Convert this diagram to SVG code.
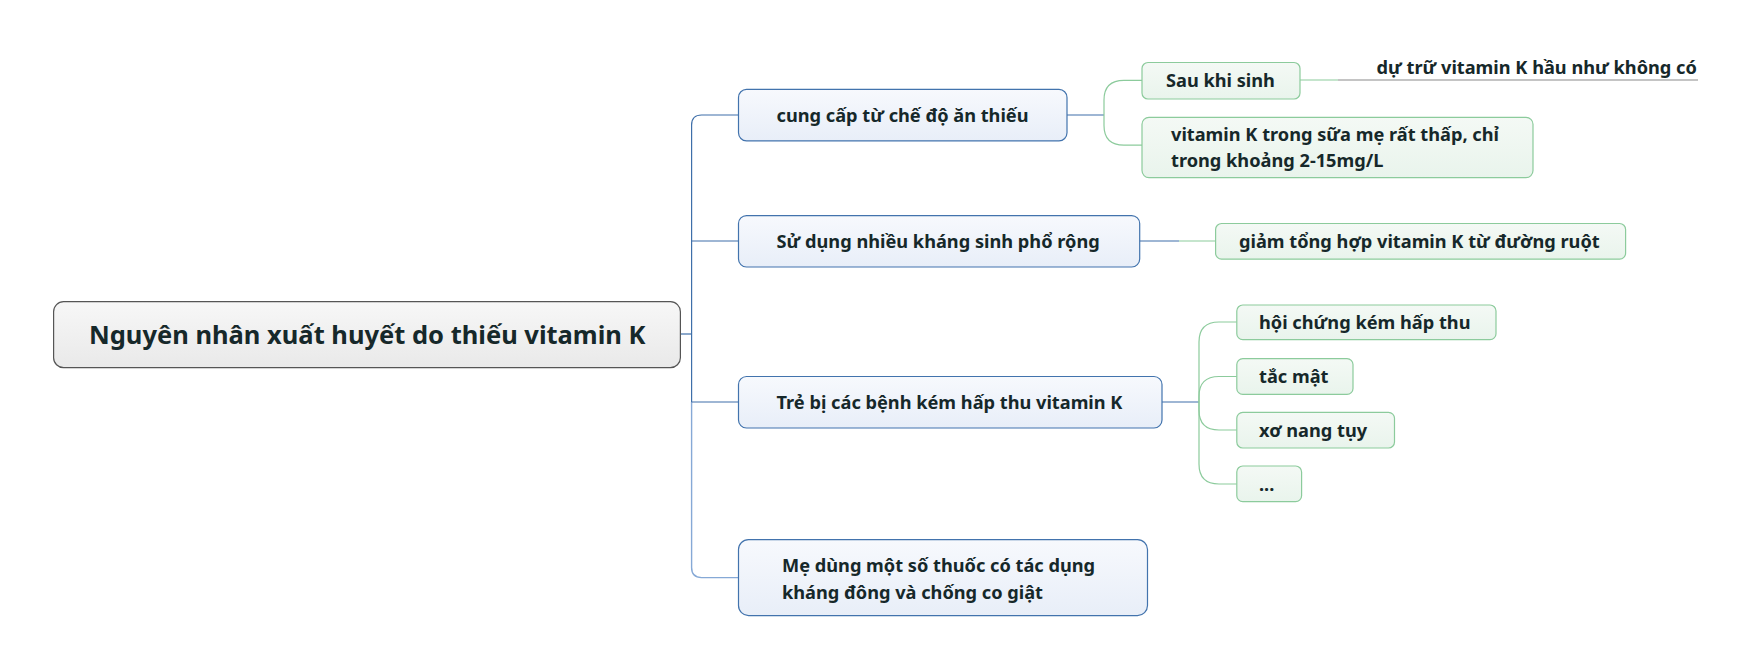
<svg xmlns="http://www.w3.org/2000/svg" width="1752" height="670" viewBox="0 0 1752 670">
<defs>
<linearGradient id="gRoot" x1="0" y1="0" x2="0" y2="1"><stop offset="0" stop-color="#f7f7f7"/><stop offset="1" stop-color="#e9e9e9"/></linearGradient>
<linearGradient id="gBlue" x1="0" y1="0" x2="0" y2="1"><stop offset="0" stop-color="#f7f9fd"/><stop offset="1" stop-color="#e8eef8"/></linearGradient>
<linearGradient id="gGreen" x1="0" y1="0" x2="0" y2="1"><stop offset="0" stop-color="#f4f9f5"/><stop offset="1" stop-color="#e9f4ec"/></linearGradient>
</defs>
<style>
text{font-family:"Noto Sans","Open Sans","DejaVu Sans",sans-serif;font-weight:bold;fill:#16282a}
.root rect{fill:url(#gRoot);stroke:#555;stroke-width:1.2}
.b rect{fill:url(#gBlue);stroke:#4273ad;stroke-width:1.2}
.s rect{fill:url(#gGreen);stroke:#8ccb9c;stroke-width:1.2}
.cb{fill:none;stroke:#3e6fa9;stroke-width:1.2}
.cl{fill:none;stroke:#86a9d6;stroke-width:1.4}
.cg{fill:none;stroke:#8ccb9c;stroke-width:1.2}
.t1{font-size:25.5px}
.t2{font-size:18.2px}
</style>
<rect width="1752" height="670" fill="#fff"/>
<g id="connectors">
<path class="cb" d="M680 334 H691.6"/>
<path class="cb" d="M738.5 115 H701.6 Q691.6 115 691.6 125 V402"/>
<path class="cl" d="M691.6 402 V567.6 Q691.6 577.6 701.6 577.6 H738.5"/>
<path class="cb" d="M691.6 241 H738.5"/>
<path class="cb" d="M691.6 402 H738.5"/>
<path class="cb" d="M1067 115 H1104"/>
<path class="cg" d="M1142 80.4 H1124 Q1104 80.4 1104 100 V125.6 Q1104 145.2 1124 145.2 H1142"/>
<path class="cg" d="M1300 80 H1338"/>
<path d="M1338 80 H1698" fill="none" stroke="#8a8a8a" stroke-width="1.2"/>
<path class="cb" d="M1139.7 241 H1179"/>
<path class="cg" d="M1179 241 H1215.6"/>
<path class="cb" d="M1162 402 H1199"/>
<path class="cg" d="M1236.8 322 H1219 Q1199 322 1199 342 V464 Q1199 484 1219 484 H1236.8"/>
<path class="cg" d="M1236.8 376.5 H1219 Q1199 376.5 1199 396.5 V410 Q1199 430 1219 430 H1236.8"/>
</g>
<g id="root" class="root">
<rect x="53.6" y="301.7" width="626.8" height="66" rx="10"/>
<text class="t1" x="89" y="344">Nguyên nhân xuất huyết do thiếu vitamin K</text>
</g>
<g id="b1" class="b">
<rect x="738.5" y="89.4" width="328.5" height="51.4" rx="8"/>
<text class="t2" x="776.5" y="121.5">cung cấp từ chế độ ăn thiếu</text>
</g>
<g id="b2" class="b">
<rect x="738.5" y="215.6" width="401.2" height="51.4" rx="8"/>
<text class="t2" x="776.5" y="247.5">Sử dụng nhiều kháng sinh phổ rộng</text>
</g>
<g id="b3" class="b">
<rect x="738.5" y="376.5" width="423.5" height="51.5" rx="8"/>
<text class="t2" x="776.5" y="408.5">Trẻ bị các bệnh kém hấp thu vitamin K</text>
</g>
<g id="b4" class="b">
<rect x="738.5" y="539.6" width="409" height="76" rx="10"/>
<text class="t2" x="782" y="571.5">Mẹ dùng một số thuốc có tác dụng</text>
<text class="t2" x="782" y="598.5">kháng đông và chống co giật</text>
</g>
<g id="s1" class="s">
<rect x="1142" y="62.5" width="158" height="36.5" rx="6"/>
<text class="t2" x="1166" y="87">Sau khi sinh</text>
</g>
<g id="s1a">
<text class="t2" x="1376.5" y="73.5">dự trữ vitamin K hầu như không có</text>
</g>
<g id="s2" class="s">
<rect x="1142" y="117.3" width="391" height="60.3" rx="7"/>
<text class="t2" x="1171" y="140.5">vitamin K trong sữa mẹ rất thấp, chỉ</text>
<text class="t2" x="1171" y="166.5">trong khoảng 2-15mg/L</text>
</g>
<g id="s3" class="s">
<rect x="1215.6" y="223.5" width="410" height="35.7" rx="6"/>
<text class="t2" x="1239" y="247.5">giảm tổng hợp vitamin K từ đường ruột</text>
</g>
<g id="s4" class="s">
<rect x="1236.8" y="305" width="259.2" height="34.7" rx="6"/>
<text class="t2" x="1259" y="328.5">hội chứng kém hấp thu</text>
</g>
<g id="s5" class="s">
<rect x="1236.8" y="358.6" width="116.2" height="35.8" rx="6"/>
<text class="t2" x="1259" y="382.5">tắc mật</text>
</g>
<g id="s6" class="s">
<rect x="1236.8" y="412.3" width="157.7" height="35.7" rx="6"/>
<text class="t2" x="1259" y="436.5">xơ nang tụy</text>
</g>
<g id="s7" class="s">
<rect x="1236.8" y="466" width="64.8" height="35.7" rx="6"/>
<text class="t2" x="1259" y="490.5">...</text>
</g>
</svg>
